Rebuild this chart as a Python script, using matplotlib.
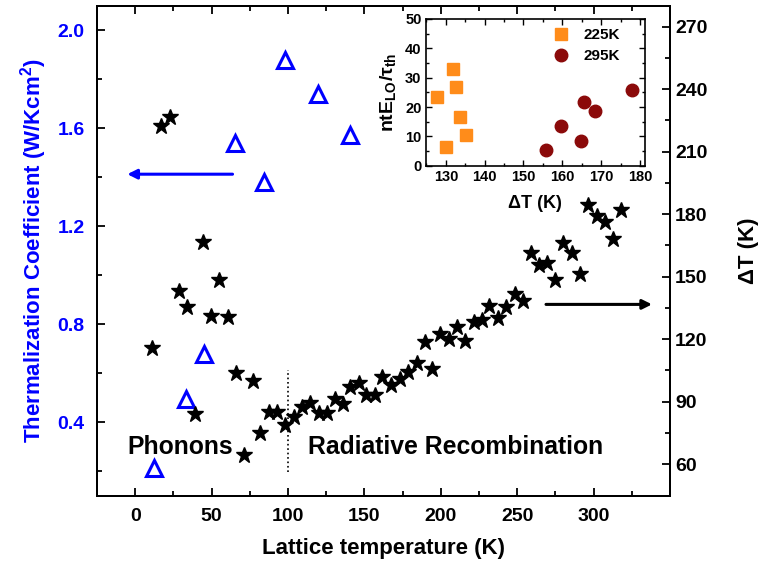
import matplotlib
matplotlib.use("Agg")
import matplotlib.pyplot as plt
from matplotlib.ticker import MultipleLocator, FormatStrFormatter

plt.rcParams['font.family'] = ['Liberation Sans', 'DejaVu Sans']
plt.rcParams['font.weight'] = 'bold'
plt.rcParams['axes.labelweight'] = 'bold'
plt.rcParams['mathtext.fontset'] = 'custom'
plt.rcParams['mathtext.rm'] = 'Liberation Sans:bold'
plt.rcParams['mathtext.it'] = 'Liberation Sans:bold'
plt.rcParams['mathtext.bf'] = 'Liberation Sans:bold'

# thermalization coefficient (left axis)
tri_T = [12.0, 33.4, 44.7, 65.5, 84.0, 98.2, 119.4, 140.8]
tri_Q = [0.211, 0.494, 0.676, 1.540, 1.381, 1.878, 1.739, 1.571]

# delta T (right axis)
star_T = [10.9, 17.0, 22.9, 28.4, 33.9, 39.3, 44.3, 49.8, 55.0, 60.7, 65.9, 70.9,
          76.8, 81.9, 87.3, 92.8, 97.8, 103.7, 109.2, 114.1, 120.0, 125.5, 131.0,
          136.0, 140.8, 146.2, 151.3, 156.8, 161.5, 167.5, 173.1, 178.6, 184.5,
          189.3, 194.3, 199.7, 205.2, 210.7, 216.1, 221.5, 227.0, 231.8, 237.5,
          242.9, 248.2, 253.9, 258.7, 264.1, 269.6, 275.0, 280.1, 285.5, 291.0,
          296.2, 301.9, 307.3, 312.8, 318.1]
star_dT = [115.9, 222.2, 226.7, 143.2, 135.3, 84.1, 166.7, 131.1, 148.3, 130.5,
           103.6, 64.4, 99.9, 75.1, 84.9, 85.2, 78.8, 82.8, 87.6, 89.2, 84.4, 84.4,
           91.1, 88.9, 97.2, 99.1, 93.2, 93.0, 101.8, 98.0, 100.7, 104.4, 108.4,
           118.8, 105.5, 122.4, 119.9, 125.9, 119.1, 128.3, 129.2, 135.9, 130.0,
           135.5, 141.6, 138.4, 161.4, 155.5, 156.4, 148.3, 166.2, 161.2, 151.1,
           184.3, 179.0, 176.3, 167.9, 181.9]

# inset
sq_dT = [127.8, 130.1, 131.9, 132.7, 133.6, 135.3]
sq_n = [23.5, 6.5, 32.8, 26.7, 16.5, 10.3]
ci_dT = [155.8, 159.7, 164.9, 165.7, 168.5, 177.9]
ci_n = [5.3, 13.5, 8.3, 21.7, 18.6, 25.8]

blue = '#0000ff'

fig = plt.figure(figsize=(7.58, 5.67), dpi=100)
ax = fig.add_axes([0.128, 0.126, 0.756, 0.864])
ax2 = ax.twinx()

ax.plot(tri_T, tri_Q, linestyle='none', marker='^', ms=12, mfc='none',
        mec=blue, mew=2.2)
ax2.plot(star_T, star_dT, linestyle='none', marker='*', ms=12, color='black')

ax.set_xlim(-25, 350)
ax.set_ylim(0.1, 2.1)
ax2.set_ylim(45, 280)

ax.set_xticks(range(0, 301, 50))
ax.xaxis.set_minor_locator(MultipleLocator(25))
ax.yaxis.set_major_locator(MultipleLocator(0.4))
ax.yaxis.set_minor_locator(MultipleLocator(0.2))
ax2.yaxis.set_major_locator(MultipleLocator(30))
ax2.yaxis.set_minor_locator(MultipleLocator(15))

ax.tick_params(which='both', direction='in', top=True, right=False, width=1.3)
ax.tick_params(which='major', length=6, labelsize=14)
ax.tick_params(which='minor', length=3.5)
ax.tick_params(axis='x', pad=9)
ax.tick_params(axis='y', labelcolor=blue, pad=9)
ax2.tick_params(which='both', direction='in', width=1.3)
ax2.tick_params(which='major', length=6, labelsize=14)
ax2.tick_params(which='minor', length=3.5)
for a in (ax, ax2):
    for s in a.spines.values():
        s.set_linewidth(1.4)
ax.yaxis.set_major_formatter(FormatStrFormatter('%.1f'))

ax.set_xlabel('Lattice temperature (K)', fontsize=16, labelpad=9)
ax.set_ylabel('Thermalization Coefficient (W/Kcm$^{2}$)', fontsize=16,
              color=blue, labelpad=6)
ax2.set_ylabel('ΔT (K)', fontsize=16, labelpad=22)

ax.annotate('', xy=(-7, 1.412), xytext=(65.5, 1.412),
            arrowprops=dict(arrowstyle='-|>', color=blue, lw=2.2, mutation_scale=14))
ax2.annotate('', xy=(340, 136.7), xytext=(267, 136.7),
             arrowprops=dict(arrowstyle='-|>', color='black', lw=2.2, mutation_scale=14))

ax.axvline(100, ymin=0.048, ymax=0.256, color='black', linestyle=':', lw=1.2)
ax.text(-5, 0.30, 'Phonons', fontsize=17.8, fontweight='bold', va='center', ha='left')
ax.text(113, 0.30, 'Radiative Recombination', fontsize=17.8, fontweight='bold',
        va='center', ha='left')

# inset
ins = fig.add_axes([0.5616, 0.7078, 0.2893, 0.2587])
ins.plot(sq_dT, sq_n, linestyle='none', marker='s', ms=8, color='#ff8c1a',
         label='225K')
ins.plot(ci_dT, ci_n, linestyle='none', marker='o', ms=9, color='#8b0a0a',
         label='295K')
ins.set_xlim(124.8, 181.3)
ins.set_ylim(0, 50)
ins.xaxis.set_major_locator(MultipleLocator(10))
ins.xaxis.set_minor_locator(MultipleLocator(5))
ins.yaxis.set_major_locator(MultipleLocator(10))
ins.yaxis.set_minor_locator(MultipleLocator(5))
ins.tick_params(which='both', direction='in', top=True, right=True, width=1.0)
ins.tick_params(which='major', length=4, labelsize=10.5, pad=3)
ins.tick_params(which='minor', length=2)
for s in ins.spines.values():
    s.set_linewidth(1.2)
ins.set_xlabel('ΔT (K)', fontsize=13, labelpad=8)
ins.set_ylabel('ntE$_{\\mathrm{LO}}$/τ$_{\\mathrm{th}}$', fontsize=14, labelpad=5)
leg = ins.legend(loc='upper left', bbox_to_anchor=(0.505, 1.0), frameon=False,
                 fontsize=11, handletextpad=0.5, borderaxespad=0.2,
                 labelspacing=0.45)
for t in leg.get_texts():
    t.set_fontweight('bold')

for a in (ax, ax2, ins):
    for lbl in a.get_xticklabels() + a.get_yticklabels():
        lbl.set_fontweight('bold')

fig.savefig('out.png', dpi=100)
